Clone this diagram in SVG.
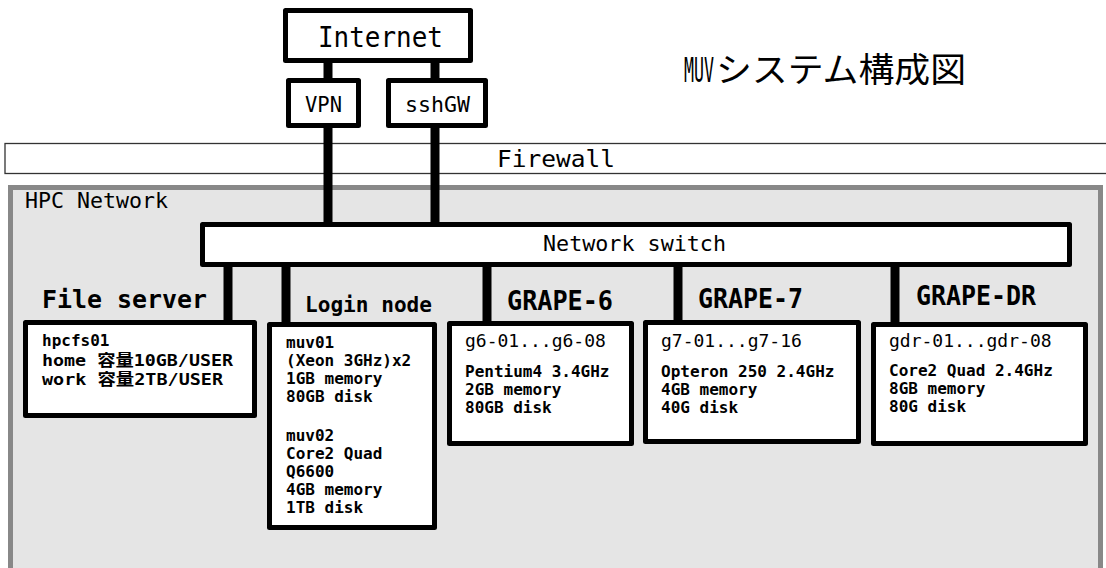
<svg xmlns="http://www.w3.org/2000/svg" width="1106" height="568" viewBox="0 0 1106 568">
<style>
text{font-family:"DejaVu Sans Mono","Noto Sans CJK JP",monospace;fill:#000}
.box{fill:#fff;stroke:#000;stroke-width:5;stroke-linejoin:round}
.conn{stroke:#000;stroke-width:9;fill:none}
.lbl{font-weight:bold}
.body{font-weight:bold;font-size:16px}
.hdr{font-weight:normal;font-size:18px}
</style>
<rect x="0" y="0" width="1106" height="568" fill="#fff"/>
<g id="hpc-network">
<rect x="10.5" y="187.5" width="1090" height="400" fill="#e5e5e5" stroke="#888" stroke-width="5"/>
<text x="25" y="208" font-size="21" textLength="143" lengthAdjust="spacingAndGlyphs">HPC Network</text>
</g>
<g id="firewall">
<rect x="5" y="143.5" width="1110" height="30" fill="#fff" stroke="#333" stroke-width="1.3"/>
<text x="497" y="167" font-size="23" textLength="118" lengthAdjust="spacingAndGlyphs">Firewall</text>
</g>
<g id="title">
<text y="82" font-size="34"><tspan x="684" textLength="30" lengthAdjust="spacingAndGlyphs">MUV</tspan><tspan x="716" font-family="Noto Sans CJK JP, sans-serif" textLength="250" lengthAdjust="spacingAndGlyphs">システム構成図</tspan></text>
</g>
<g id="connectors">
<line class="conn" x1="328" y1="60" x2="328" y2="82"/>
<line class="conn" x1="435" y1="60" x2="435" y2="82"/>
<line class="conn" x1="328" y1="126" x2="328" y2="226"/>
<line class="conn" x1="435" y1="126" x2="435" y2="226"/>
<line class="conn" x1="228" y1="264" x2="228" y2="324"/>
<line class="conn" x1="286" y1="264" x2="286" y2="326"/>
<line class="conn" x1="487" y1="264" x2="487" y2="325"/>
<line class="conn" x1="678" y1="264" x2="678" y2="324"/>
<line class="conn" x1="895" y1="264" x2="895" y2="326"/>
</g>
<g id="internet">
<rect class="box" x="285.5" y="10.5" width="185" height="50"/>
<text x="318" y="47" font-size="29" textLength="125" lengthAdjust="spacingAndGlyphs">Internet</text>
</g>
<g id="vpn">
<rect class="box" x="288.5" y="80.5" width="70" height="45"/>
<text x="305" y="112" font-size="22" textLength="37" lengthAdjust="spacingAndGlyphs">VPN</text>
</g>
<g id="sshgw">
<rect class="box" x="388.5" y="80.5" width="97" height="45"/>
<text x="405" y="112" font-size="22" textLength="65" lengthAdjust="spacingAndGlyphs">sshGW</text>
</g>
<g id="network-switch">
<rect class="box" x="202.5" y="224.5" width="867" height="40"/>
<text x="543" y="251" font-size="21.5" textLength="183" lengthAdjust="spacingAndGlyphs">Network switch</text>
</g>
<g id="file-server">
<text class="lbl" x="42" y="308" font-size="24.5" textLength="165" lengthAdjust="spacingAndGlyphs">File server</text>
<rect class="box" x="25.5" y="322.5" width="229" height="93"/>
<text class="body" x="42" y="346">hpcfs01</text>
<text class="body" x="42" y="365.5" textLength="191" lengthAdjust="spacingAndGlyphs">home 容量10GB/USER</text>
<text class="body" x="42" y="385" textLength="181" lengthAdjust="spacingAndGlyphs">work 容量2TB/USER</text>
</g>
<g id="login-node">
<text class="lbl" x="305" y="312" font-size="20.5" textLength="127" lengthAdjust="spacingAndGlyphs">Login node</text>
<rect class="box" x="269.5" y="324.5" width="165" height="203"/>
<text class="body" x="286" y="348">muv01</text>
<text class="body" x="286" y="366">(Xeon 3GHz)x2</text>
<text class="body" x="286" y="384">1GB memory</text>
<text class="body" x="286" y="402">80GB disk</text>
<text class="body" x="286" y="441">muv02</text>
<text class="body" x="286" y="459">Core2 Quad</text>
<text class="body" x="286" y="477">Q6600</text>
<text class="body" x="286" y="495">4GB memory</text>
<text class="body" x="286" y="513">1TB disk</text>
</g>
<g id="grape-6">
<text class="lbl" x="507" y="310" font-size="27" textLength="106" lengthAdjust="spacingAndGlyphs">GRAPE-6</text>
<rect class="box" x="449.5" y="323.5" width="182" height="120"/>
<text class="hdr" x="465" y="347">g6-01...g6-08</text>
<text class="body" x="465" y="377">Pentium4 3.4GHz</text>
<text class="body" x="465" y="395">2GB memory</text>
<text class="body" x="465" y="413">80GB disk</text>
</g>
<g id="grape-7">
<text class="lbl" x="698" y="308" font-size="27" textLength="105" lengthAdjust="spacingAndGlyphs">GRAPE-7</text>
<rect class="box" x="645.5" y="322.5" width="213" height="119"/>
<text class="hdr" x="661" y="347">g7-01...g7-16</text>
<text class="body" x="661" y="377">Opteron 250 2.4GHz</text>
<text class="body" x="661" y="395">4GB memory</text>
<text class="body" x="661" y="413">40G disk</text>
</g>
<g id="grape-dr">
<text class="lbl" x="916" y="305" font-size="27" textLength="120" lengthAdjust="spacingAndGlyphs">GRAPE-DR</text>
<rect class="box" x="873.5" y="324.5" width="212" height="119"/>
<text class="hdr" x="889" y="347">gdr-01...gdr-08</text>
<text class="body" x="889" y="376">Core2 Quad 2.4GHz</text>
<text class="body" x="889" y="394">8GB memory</text>
<text class="body" x="889" y="412">80G disk</text>
</g>
</svg>
